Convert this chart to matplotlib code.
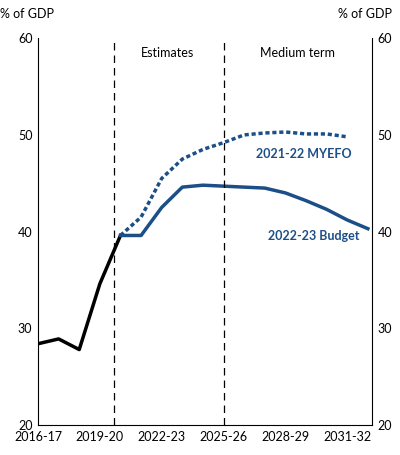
import matplotlib
matplotlib.use("Agg")
import matplotlib.pyplot as plt

plt.rcParams['font.family'] = ['Lato', 'DejaVu Sans']

years = ['2016-17','2017-18','2018-19','2019-20','2020-21','2021-22','2022-23','2023-24',
         '2024-25','2025-26','2026-27','2027-28','2028-29','2029-30','2030-31','2031-32','2032-33']
actual = [28.4, 28.9, 27.8, 34.6, 39.6]
budget = [39.6, 39.6, 42.5, 44.6, 44.8, 44.7, 44.6, 44.5, 44.0, 43.2, 42.3, 41.2, 40.3]
myefo = [39.6, 41.5, 45.5, 47.5, 48.5, 49.2, 50.0, 50.2, 50.3, 50.1, 50.1, 49.8]
tick_labels = ['2016-17', '2019-20', '2022-23', '2025-26', '2028-29', '2031-32']

blue = '#1c4f87'
fig = plt.figure(figsize=(4, 4.55), dpi=100)
ax = fig.add_axes([0.095, 0.066, 0.835, 0.85])

x_a = list(range(len(actual)))
x_b = list(range(4, 4 + len(budget)))
x_m = list(range(4, 4 + len(myefo)))
ax.plot(x_a, actual, color='black', lw=2.5)
ax.plot(x_b, budget, color=blue, lw=2.5)
ax.plot(x_m, myefo, color=blue, lw=2.5, ls=(0, (1.2, 0.8)))

ax.axvline(3.7, color='black', lw=0.9, ls=(0, (6, 4)))
ax.axvline(9, color='black', lw=0.9, ls=(0, (6, 4)))

ax.set_xlim(0, 16.2)
ax.set_ylim(20, 60)
ax.set_yticks([20, 30, 40, 50, 60])
ax.set_xticks([years.index(t) for t in tick_labels])
ax.set_xticklabels(tick_labels)
ax.tick_params(labelsize=9, length=0, pad=4)
ax.tick_params(axis='y', labelright=True, right=False)
for s in ['top']:
    ax.spines[s].set_visible(False)
for s in ['left', 'right', 'bottom']:
    ax.spines[s].set_linewidth(0.8)

ax.text(6.3, 58.5, 'Estimates', ha='center', va='center', fontsize=9)
ax.text(12.6, 58.5, 'Medium term', ha='center', va='center', fontsize=9)
ax.text(15.2, 48.0, '2021-22 MYEFO', ha='right', va='center', fontsize=9, color=blue, fontweight='bold')
ax.text(15.6, 39.5, '2022-23 Budget', ha='right', va='center', fontsize=9, color=blue, fontweight='bold')
fig.text(0.0, 0.96, '% of GDP', fontsize=9, ha='left')
fig.text(0.98, 0.96, '% of GDP', fontsize=9, ha='right')

fig.savefig('out.png', dpi=100)
